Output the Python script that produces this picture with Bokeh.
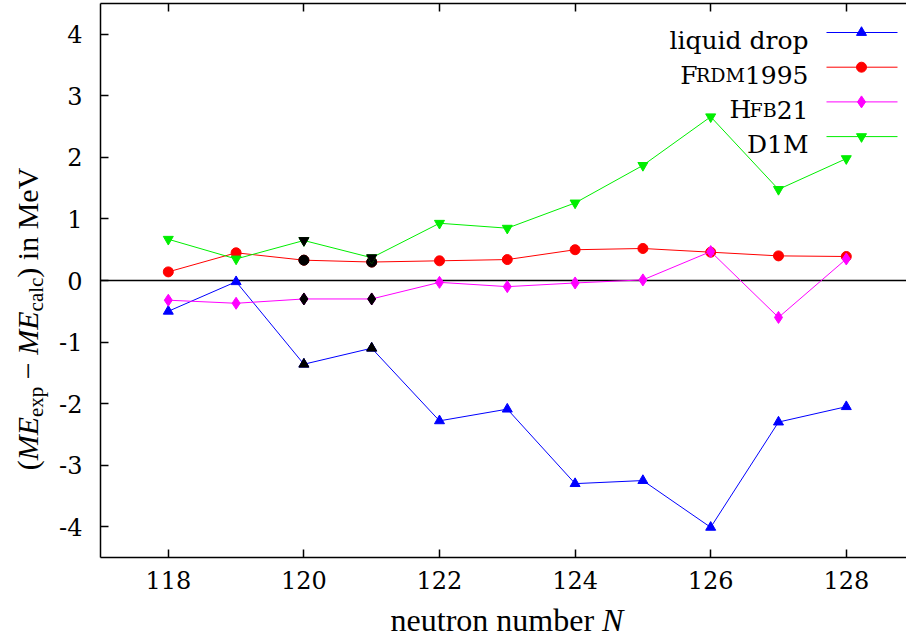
import math
from bokeh.plotting import figure
from bokeh.models import Range1d, FixedTicker, LinearAxis, Span, Label, Div
from bokeh.layouts import column
from bokeh.embed import file_html
from bokeh.resources import INLINE

# ---------------- data ----------------
N = [118, 119, 120, 121, 122, 123, 124, 125, 126, 127, 128]
liquid_drop = [-0.50, -0.02, -1.36, -1.10, -2.28, -2.09, -3.30, -3.25, -4.01, -2.30, -2.05]
frdm1995 = [0.14, 0.45, 0.33, 0.30, 0.32, 0.34, 0.50, 0.52, 0.46, 0.40, 0.39]
hfb21 = [-0.32, -0.37, -0.30, -0.30, -0.03, -0.10, -0.04, 0.01, 0.47, -0.60, 0.35]
d1m = [0.67, 0.35, 0.65, 0.37, 0.93, 0.85, 1.26, 1.87, 2.66, 1.48, 1.98]
highlight_N = [120, 121]          # points drawn in black

x_ticks = [118, 120, 122, 124, 126, 128]
x_tick_labels = ["118", "120", "122", "124", "126", "128"]
y_ticks = [-4, -3, -2, -1, 0, 1, 2, 3, 4]
y_tick_labels = ["-4", "-3", "-2", "-1", "0", "1", "2", "3", "4"]

FONT = "DejaVu Serif"
CSS_FONT = "'Liberation Serif', 'Times New Roman', serif"

W, H = 906, 639
L, T, B = 100, 3, 82          # frame borders (px)
X0, X1 = 117.0, 128.888
Y0, Y1 = -4.5, 4.5

p = figure(width=W, height=H, output_backend="svg", toolbar_location=None,
           x_range=Range1d(X0, X1), y_range=Range1d(Y0, Y1),
           x_axis_location=None, y_axis_location=None,
           min_border_left=L, min_border_top=T, min_border_bottom=B, min_border_right=0)
p.outline_line_color = None
p.grid.visible = False
p.background_fill_color = "white"
p.border_fill_color = "white"


def style_axis(ax, show_labels=True):
    ax.axis_line_color = "black"
    ax.axis_line_width = 1.5
    ax.major_tick_line_color = "black"
    ax.major_tick_line_width = 1.5
    ax.major_tick_in = 8
    ax.major_tick_out = 0
    ax.minor_tick_line_color = None
    ax.major_label_text_font = FONT
    ax.major_label_text_color = "black"
    ax.major_label_text_font_size = "24px" if show_labels else "0px"


xax = LinearAxis(ticker=FixedTicker(ticks=x_ticks),
                 major_label_overrides={t: s for t, s in zip(x_ticks, x_tick_labels)})
style_axis(xax)
xax.major_label_standoff = 13
p.add_layout(xax, "below")

yax = LinearAxis(ticker=FixedTicker(ticks=y_ticks),
                 major_label_overrides={t: s for t, s in zip(y_ticks, y_tick_labels)})
style_axis(yax)
yax.major_label_standoff = 18
p.add_layout(yax, "left")

tax = LinearAxis(ticker=FixedTicker(ticks=x_ticks),
                 major_label_overrides={t: "" for t in x_ticks})
style_axis(tax, show_labels=False)
tax.major_label_standoff = 0
p.add_layout(tax, "above")

p.add_layout(Span(location=0, dimension="width", line_color="black",
                  line_width=1.5, level="underlay"))

series = [
    ("liquid drop", liquid_drop, "#0000ff", "triangle", 10),
    ("FRDM1995", frdm1995, "#ff0000", "circle", 10),
    ("HFB21", hfb21, "#ff00ff", "diamond", 12),
    ("D1M", d1m, "#00ee00", "inverted_triangle", 10),
]

for name, ys, col, mk, sz in series:
    p.line(N, ys, line_color=col, line_width=1)
    p.scatter(N, ys, marker=mk, size=sz, fill_color=col, line_color=col)
    hx = [n for n in N if n in highlight_N]
    hy = [v for n, v in zip(N, ys) if n in highlight_N]
    p.scatter(hx, hy, marker=mk, size=sz, fill_color="black", line_color="black")

# ---------------- legend (layout in pixels) ----------------
def px_to_x(px):
    return X0 + (px - L) / (W - L) * (X1 - X0)


def py_to_y(py):
    return Y1 - (py - T) / (H - B - T) * (Y1 - Y0)


frame_bottom = H - B
leg_text_right = 708          # frame-relative px
leg_row0 = 32                 # window px of first row centre
leg_dy = 34.7
line_x0, line_x1, mark_x = 826, 897, 861

legend_pieces = [
    [("liquid drop", 25)],
    [("F", 25), ("RDM", 19), ("1995", 25)],
    [("H", 25), ("FB", 19), ("21", 25)],
    [("D1M", 25)],
]
# approximate DejaVu Serif advance widths (em)
ADV = {"F": .653, "R": .727, "D": .771, "M": .995, "1": .636, "9": .636, "5": .636,
       "H": .872, "B": .686, "2": .636}

for i, ((name, ys, col, mk, sz), pieces) in enumerate(zip(series, legend_pieces)):
    cy = leg_row0 + i * leg_dy
    ydat = py_to_y(cy)
    p.line([px_to_x(line_x0), px_to_x(line_x1)], [ydat, ydat], line_color=col, line_width=1)
    p.scatter([px_to_x(mark_x)], [ydat], marker=mk, size=sz, fill_color=col, line_color=col)
    xr = leg_text_right
    for text, fs in reversed(pieces):
        p.add_layout(Label(x=xr, y=frame_bottom - cy - 8, x_units="screen", y_units="screen",
                           text=text, text_font=FONT, text_font_size=f"{fs}px",
                           text_align="right", text_baseline="alphabetic", text_color="black"))
        if len(pieces) > 1:
            xr -= sum(ADV.get(c, .6) for c in text) * fs

# ---------------- axis titles (HTML text) ----------------
ylabel_html = ("(<i>ME</i><sub style='font-size:70%;vertical-align:-0.25em'>exp</sub>"
               " &minus; <i>ME</i><sub style='font-size:70%;vertical-align:-0.25em'>calc</sub>)"
               " in MeV")
xlabel_html = "neutron number <i>N</i>"

ylab = Div(text=ylabel_html, width=340, height=36,
           styles={"position": "absolute", "left": "-147px", "top": "296px",
                   "transform": "rotate(-90deg)", "transform-origin": "50% 50%",
                   "font-family": CSS_FONT, "font-size": "30px", "line-height": "36px",
                   "text-align": "center", "color": "black", "white-space": "nowrap"})
xlab = Div(text=xlabel_html, width=300, height=38,
           styles={"position": "absolute", "left": "352px", "top": "597px",
                   "font-family": CSS_FONT, "font-size": "32px", "line-height": "36px",
                   "text-align": "center", "color": "black", "white-space": "nowrap"})

layout = column(p, ylab, xlab, styles={"position": "absolute", "left": "0px", "top": "0px"})
open("out.html", "w").write(file_html(layout, INLINE))
